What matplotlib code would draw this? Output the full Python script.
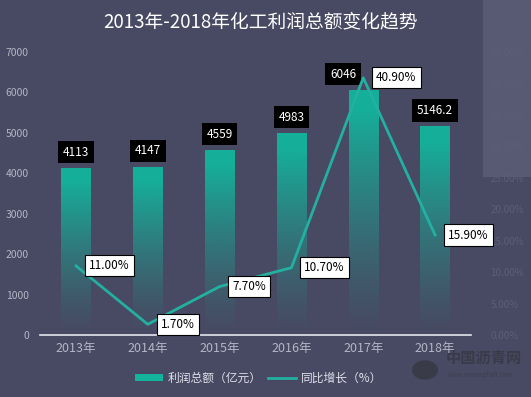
import numpy as np
import matplotlib.pyplot as plt
from matplotlib.patches import Patch, Rectangle, Circle
from matplotlib.lines import Line2D

plt.rcParams['font.family'] = ['Noto Sans CJK SC', 'DejaVu Sans']

years = ['2013年', '2014年', '2015年', '2016年', '2017年', '2018年']
profit = [4113, 4147, 4559, 4983, 6046, 5146.2]
profit_text = ['4113', '4147', '4559', '4983', '6046', '5146.2']
growth = [11.00, 1.70, 7.70, 10.70, 40.90, 15.90]

BG = '#474a62'
TEAL = '#14b39c'
LINE = '#23b0a0'

fig = plt.figure(figsize=(5.31, 3.97), dpi=100, facecolor=BG)
ax = fig.add_axes([40 / 531, 1 - 335 / 397, 431 / 531, 283 / 397])
ax.set_facecolor('none')
ax2 = ax.twinx()

# faint lighter block in the top right corner
fig.patches.append(Rectangle((483 / 531, 1 - 177 / 397), 48 / 531, 177 / 397,
                             transform=fig.transFigure, facecolor='#585a74',
                             edgecolor='none', zorder=-1))

x = np.arange(len(years))
w = 0.41
rgb = np.array([0x14, 0xb3, 0x9c]) / 255
for xi, h in zip(x, profit):
    n = 100
    t = np.linspace(1, 0, n)
    alpha = np.clip(t ** 1.3 * 1.1, 0, 1) * 0.97
    img = np.zeros((n, 1, 4))
    img[:, 0, :3] = rgb
    img[:, 0, 3] = alpha
    ax.imshow(img, extent=[xi - w / 2, xi + w / 2, 0, h], aspect='auto',
              interpolation='bilinear', zorder=2)

ax.set_xlim(-0.5, len(years) - 0.5)
ax.set_ylim(0, 7000)
ax.set_yticks(range(0, 7001, 1000))
ax.set_xticks(x)
ax.set_xticklabels(years)
ax.tick_params(axis='y', length=0, colors='#b4b6c6', labelsize=7.5, pad=8)
ax.tick_params(axis='x', length=0, colors='#b4b6c6', labelsize=9, pad=5)
for s in ['top', 'right', 'left']:
    ax.spines[s].set_visible(False)
ax.spines['bottom'].set_color('#e6e6ee')
ax.spines['bottom'].set_linewidth(1.2)

# bar value labels
offsets = [0, 0, 0, 0, -20, 0]
for xi, h, txt, dx in zip(x, profit, profit_text, offsets):
    ax.annotate(txt, (xi, h), xytext=(dx, 10), textcoords='offset pixels',
                ha='center', va='bottom', color='white', fontsize=8.5,
                bbox=dict(boxstyle='square,pad=0.4', facecolor='black',
                          edgecolor='none'), zorder=6)

ax2.set_ylim(0, 45)
ax2.set_yticks(range(0, 46, 5))
ax2.set_yticklabels([f'{v:.2f}%' for v in range(0, 46, 5)])
ax2.tick_params(axis='y', length=0, colors='#5c5e77', labelsize=7, pad=14)
for s in ['top', 'right', 'left', 'bottom']:
    ax2.spines[s].set_visible(False)
ax2.plot(x, growth, color=LINE, linewidth=2, zorder=4)
for xi, g in zip(x, growth):
    ax2.annotate(f'{g:.2f}%', (xi, g), xytext=(13, 0), textcoords='offset pixels',
                 ha='left', va='center', color='black', fontsize=8.5,
                 bbox=dict(boxstyle='square,pad=0.35', facecolor='white',
                           edgecolor='black', linewidth=0.8), zorder=6)

fig.text(0.49, 1 - 22 / 397, '2013年-2018年化工利润总额变化趋势', ha='center',
         va='center', color='white', fontsize=13.5)

handles = [Patch(facecolor=TEAL, edgecolor='none'),
           Line2D([0], [0], color=LINE, linewidth=2)]
fig.legend(handles, ['利润总额（亿元）', '同比增长（%）'], loc='center',
           bbox_to_anchor=(0.487, 1 - 378 / 397), ncol=2, frameon=False,
           fontsize=8.5, labelcolor='#e0e0ea', handlelength=2.4,
           handleheight=0.6, columnspacing=0.5, handletextpad=0.4)

# watermark
fig.patches.append(Circle((425 / 531, 1 - 370 / 397), 13 / 531,
                          transform=fig.transFigure, facecolor='#3a3b48',
                          edgecolor='none', zorder=1))
fig.text(446 / 531, 1 - 358 / 397, '中国沥青网', color='#3a3b4a', fontsize=11,
         fontweight='bold', va='center', ha='left')
fig.text(448 / 531, 1 - 375 / 397, 'www.sinoasphalt.com', color='#3e3f4e',
         fontsize=4.5, va='center', ha='left')

fig.savefig('out.png', dpi=100, facecolor=BG)
